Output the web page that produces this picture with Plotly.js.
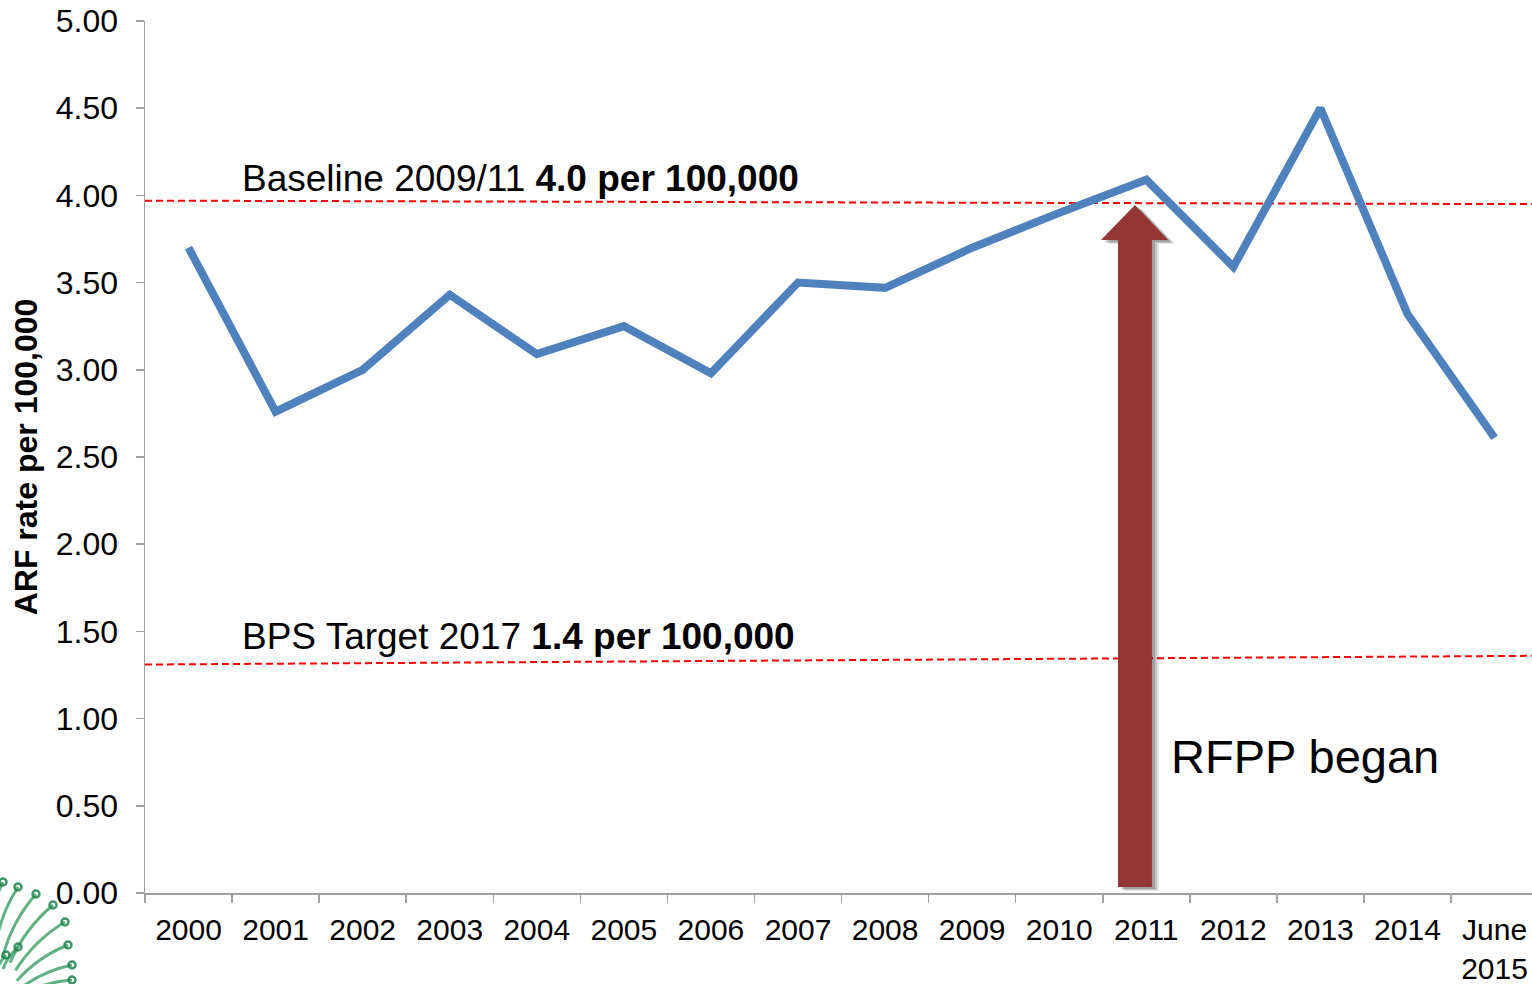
<!DOCTYPE html>
<html>
<head>
<meta charset="utf-8">
<script src="https://cdn.plot.ly/plotly-3.0.1.min.js"></script>
<style>
  html, body { margin: 0; padding: 0; background: #ffffff; }
  #chart { width: 1532px; height: 984px; }
</style>
</head>
<body>
<div id="chart"></div>
<script>
// ---- data ----
const categories = ['2000','2001','2002','2003','2004','2005','2006','2007','2008','2009','2010','2011','2012','2013','2014','June<br>2015'];
const arfRate = [3.70, 2.76, 3.00, 3.43, 3.09, 3.25, 2.98, 3.50, 3.47, 3.70, 3.90, 4.09, 3.59, 4.50, 3.32, 2.61];
const baselineEnds = [3.97, 3.95];   // dashed baseline line, left and right end
const targetEnds = [1.31, 1.36];     // dashed target line, left and right end
const yTicks = [0, 0.5, 1, 1.5, 2, 2.5, 3, 3.5, 4, 4.5, 5];

const idx = categories.map((c, i) => i);
const xRange = [-0.5, 15.43];

const FONT = 'Liberation Sans, Arial, sans-serif';
const AXIS_GRAY = '#A0A0A0';

const traces = [
  {
    x: xRange, y: baselineEnds, mode: 'lines', hoverinfo: 'skip',
    line: { color: '#FF0000', width: 2, dash: '7px,4px' }
  },
  {
    x: xRange, y: targetEnds, mode: 'lines', hoverinfo: 'skip',
    line: { color: '#FF0000', width: 2, dash: '7px,4px' }
  },
  {
    x: idx, y: arfRate, mode: 'lines',
    line: { color: '#4F81BD', width: 8 }
  }
];

// arrow (annotation graphic) in data space
function arrowPath(dx, dy) {
  const sl = 10.675 + dx, sr = 11.065 + dx, hl = 10.48 + dx, hr = 11.25 + dx, tip = 10.87 + dx;
  const yb = 0.034 + dy, yh = 3.744 + dy, yt = 3.945 + dy;
  return `M ${sl},${yb} L ${sl},${yh} L ${hl},${yh} L ${tip},${yt} L ${hr},${yh} L ${sr},${yh} L ${sr},${yb} Z`;
}
const pxX = 1 / 87.07, pxY = 1 / 174.4;

const shapes = [
  { type: 'path', xref: 'x', yref: 'y', path: arrowPath(7 * pxX, -4 * pxY), fillcolor: 'rgba(0,0,0,0.10)', line: { width: 0 }, layer: 'above' },
  { type: 'path', xref: 'x', yref: 'y', path: arrowPath(5 * pxX, -3 * pxY), fillcolor: 'rgba(0,0,0,0.15)', line: { width: 0 }, layer: 'above' },
  { type: 'path', xref: 'x', yref: 'y', path: arrowPath(3 * pxX, -2 * pxY), fillcolor: 'rgba(0,0,0,0.18)', line: { width: 0 }, layer: 'above' },
  { type: 'path', xref: 'x', yref: 'y', path: arrowPath(0, 0), fillcolor: '#943634', line: { width: 0 }, layer: 'above' }
];

// decorative fern logo in the bottom-left corner (pixel positions -> paper)
const PX = p => (p - 145) / 1387;
const PY = p => (893 - p) / 872;
const frondTips = [[3, 882], [18, 887], [36, 894], [53, 905], [65, 922], [68, 945], [72, 965], [72, 980], [18, 947], [6, 955]];
const centre = [-25, 1010];
frondTips.forEach(([tx, ty], k) => {
  const len = k >= 8 ? 0.35 : 0.55;
  const ex = tx + (centre[0] - tx) * len, ey = ty + (centre[1] - ty) * len;
  const mx = (tx + ex) / 2 + (ty - ey) * 0.12, my = (ty + ey) / 2 - (tx - ex) * 0.12;
  shapes.push({
    type: 'path', xref: 'paper', yref: 'paper', layer: 'above',
    path: `M ${PX(tx)},${PY(ty)} Q ${PX(mx)},${PY(my)} ${PX(ex)},${PY(ey)}`,
    line: { color: 'rgba(46,150,90,0.75)', width: 3 }
  });
  shapes.push({
    type: 'circle', xref: 'paper', yref: 'paper', layer: 'above',
    x0: PX(tx - 3.5), x1: PX(tx + 3.5), y0: PY(ty + 3.5), y1: PY(ty - 3.5),
    line: { color: 'rgba(30,130,75,0.85)', width: 2.5 }
  });
});

const annotations = [
  {
    xref: 'x', yref: 'y', x: 0.59, y: 4.095, xanchor: 'left', yanchor: 'middle',
    text: 'Baseline 2009/11 <b>4.0 per 100,000</b>', showarrow: false,
    font: { family: FONT, size: 37, color: '#000000' }
  },
  {
    xref: 'x', yref: 'y', x: 0.59, y: 1.47, xanchor: 'left', yanchor: 'middle',
    text: 'BPS Target 2017 <b>1.4 per 100,000</b>', showarrow: false,
    font: { family: FONT, size: 37, color: '#000000' }
  },
  {
    xref: 'x', yref: 'y', x: 11.26, y: 0.785, xanchor: 'left', yanchor: 'middle',
    text: 'RFPP began', showarrow: false,
    font: { family: FONT, size: 47, color: '#000000' }
  }
];

const layout = {
  width: 1532, height: 984,
  margin: { l: 145, r: 0, t: 21, b: 91 },
  paper_bgcolor: '#ffffff', plot_bgcolor: '#ffffff',
  showlegend: false,
  font: { family: FONT, color: '#000000' },
  xaxis: {
    type: 'linear', range: xRange, fixedrange: true,
    tickmode: 'array', tickvals: idx, ticktext: categories,
    ticks: 'outside', ticklen: 8, tickcolor: 'rgba(0,0,0,0)',
    ticklabelstandoff: 1,
    tickfont: { family: FONT, size: 30, color: '#000000' },
    showline: true, linecolor: AXIS_GRAY, linewidth: 1.5,
    showgrid: false, zeroline: false,
    minor: { tickmode: 'linear', tick0: -0.5, dtick: 1, ticks: 'outside', ticklen: 8, tickcolor: AXIS_GRAY, tickwidth: 1.5, showgrid: false }
  },
  yaxis: {
    range: [0, 5], fixedrange: true,
    tickmode: 'array', tickvals: yTicks, tickformat: '.2f',
    ticks: 'outside', ticklen: 8, tickcolor: AXIS_GRAY, tickwidth: 1.5,
    ticklabelstandoff: 11,
    tickfont: { family: FONT, size: 32, color: '#000000' },
    showline: true, linecolor: AXIS_GRAY, linewidth: 1.5,
    showgrid: false, zeroline: false,
    title: { text: '<b>ARF rate per 100,000</b>', font: { family: FONT, size: 32, color: '#000000' }, standoff: 8 }
  },
  shapes: shapes,
  annotations: annotations
};

Plotly.newPlot('chart', traces, layout, { displayModeBar: false, staticPlot: true });
</script>
</body>
</html>
